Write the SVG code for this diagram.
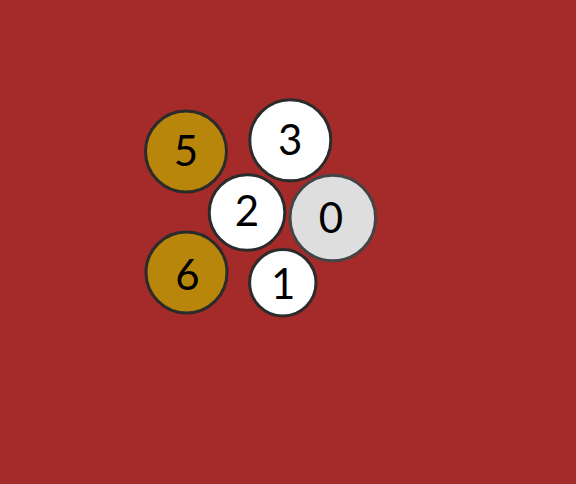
<svg xmlns="http://www.w3.org/2000/svg" width="576" height="484" viewBox="0 0 576 484">
<style>
.n{stroke:#2b2b2b;stroke-width:3}
.w{fill:#ffffff}
.g{fill:#b8860b}
.z{fill:#dedede;stroke:#444444}
text{font-family:Lato,"Open Sans",sans-serif;font-size:42px;fill:#000;text-anchor:middle}
</style>
<rect width="576" height="484" fill="#a52a2a"/>
<g id="connectors"></g>
<g id="node5"><circle class="n g" cx="186" cy="151.5" r="40.5"/><text x="186" y="166">5</text></g>
<g id="node3"><circle class="n w" cx="290.3" cy="140.3" r="40.5"/><text x="290.3" y="154.5">3</text></g>
<g id="node2"><circle class="n w" cx="247" cy="212.5" r="37.8"/><text x="247" y="226">2</text></g>
<g id="node0"><circle class="n z" cx="332.8" cy="218" r="42.8"/><text x="331" y="233">0</text></g>
<g id="node6"><circle class="n g" cx="186.5" cy="272.5" r="40.5"/><text x="187.5" y="290">6</text></g>
<g id="node1"><circle class="n w" cx="282.8" cy="282.8" r="33.2"/><text x="283.3" y="299">1</text></g>
</svg>
